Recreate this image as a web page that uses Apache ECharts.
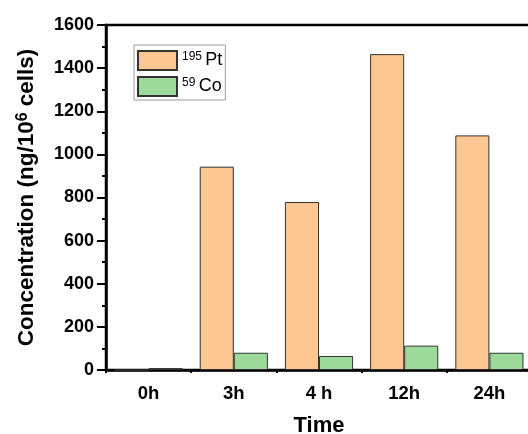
<!DOCTYPE html>
<html><head><meta charset="utf-8">
<script src="https://cdn.jsdelivr.net/npm/echarts@6/dist/echarts.min.js"></script>
<style>html,body{margin:0;padding:0;background:#fff}#c{width:528px;height:434px}</style>
</head><body><div id="c"></div>
<script>
const categories = ['0h', '3h', '4 h', '12h', '24h'];
const ptValues = [0, 943, 779, 1465, 1088];
const coValues = [9, 80, 65, 113, 80];
const yTicks = [0, 200, 400, 600, 800, 1000, 1200, 1400, 1600];

const font = '"Liberation Sans", Arial, sans-serif';
const chart = echarts.init(document.getElementById('c'));
chart.setOption({
  animation: false,
  backgroundColor: '#fff',
  grid: { left: 106, top: 25, width: 426, height: 345, outerBoundsMode: 'none', containLabel: false,
          show: true, borderColor: '#000', borderWidth: 2.5, backgroundColor: 'transparent' },
  legend: {
    left: 134, top: 45,
    orient: 'vertical',
    icon: 'rect',
    itemWidth: 39, itemHeight: 19, itemGap: 5,
    padding: [5, 3, 3, 3],
    borderColor: '#999', borderWidth: 1,
    formatter: function (n) {
      return n === 'Pt' ? '{sup|195} {n|Pt}' : '{sup|59} {n|Co}';
    },
    textStyle: {
      fontFamily: font, color: '#000',
      rich: {
        sup: { fontSize: 12, fontFamily: font, color: '#000', verticalAlign: 'top', lineHeight: 12 },
        n: { fontSize: 18, fontFamily: font, color: '#000', lineHeight: 20 }
      }
    },
    data: ['Pt', 'Co']
  },
  xAxis: [{
    type: 'category', data: categories,
    axisLine: { lineStyle: { color: '#000', width: 2.5 } },
    axisTick: { alignWithLabel: true, length: 7, lineStyle: { color: '#000', width: 2 } },
    axisLabel: { fontFamily: font, fontWeight: 'bold', fontSize: 18.5, color: '#000', margin: 14 },
    name: 'Time', nameLocation: 'middle', nameGap: 45,
    nameTextStyle: { fontFamily: font, fontWeight: 'bold', fontSize: 22, color: '#000' }
  }, {
    type: 'category', data: categories, position: 'bottom',
    axisLine: { show: false },
    axisTick: { show: true, length: 3, lineStyle: { color: '#000', width: 2 } },
    axisLabel: { show: false }
  }],
  yAxis: {
    type: 'value', min: 0, max: 1600, interval: 200,
    axisLine: { show: true, lineStyle: { color: '#000', width: 2.5 } },
    axisTick: { show: true, length: 9, lineStyle: { color: '#000', width: 2 } },
    minorTick: { show: true, splitNumber: 2, length: 4, lineStyle: { color: '#000', width: 2 } },
    splitLine: { show: false },
    axisLabel: {
      fontFamily: font, fontWeight: 'bold', fontSize: 18, color: '#000', margin: 12,
      formatter: function (v) { return yTicks.indexOf(v) >= 0 ? String(v) : ''; }
    },
    name: 'Concentration (ng/10{sup|6} cells)', nameLocation: 'middle', nameGap: 68,
    nameTextStyle: {
      fontFamily: font, fontWeight: 'bold', fontSize: 22.5, color: '#000',
      rich: {
        sup: { fontFamily: font, fontWeight: 'bold', fontSize: 16, color: '#000', verticalAlign: 'top', lineHeight: 14 }
      }
    }
  },
  series: [{
    name: 'Pt', type: 'bar', data: ptValues, barGap: '0%', barCategoryGap: '20%',
    itemStyle: { color: '#FDC794', borderColor: '#333', borderWidth: 1 }
  }, {
    name: 'Co', type: 'bar', data: coValues,
    itemStyle: { color: '#9ED99C', borderColor: '#333', borderWidth: 1 }
  }]
});
</script></body></html>
